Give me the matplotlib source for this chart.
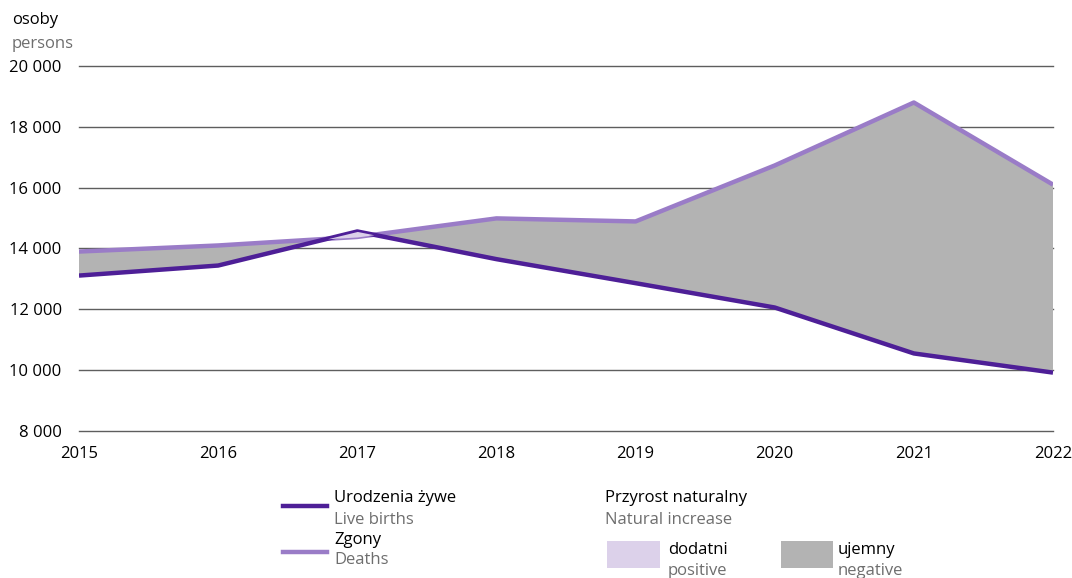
import matplotlib
matplotlib.use("Agg")
import matplotlib.pyplot as plt
import numpy as np
from matplotlib.patches import Rectangle
from matplotlib.lines import Line2D

years = [2015, 2016, 2017, 2018, 2019, 2020, 2021, 2022]
births = [13110, 13440, 14560, 13650, 12860, 12060, 10550, 9920]
deaths = [13900, 14100, 14380, 14990, 14890, 16730, 18800, 16100]
yticks = [8000, 10000, 12000, 14000, 16000, 18000, 20000]
ytick_labels = ["8 000", "10 000", "12 000", "14 000", "16 000", "18 000", "20 000"]

C_BIRTH = "#4e1f97"
C_DEATH = "#9a7cc7"
C_POS = "#dcd1ea"
C_NEG = "#b3b3b3"
C_GREY_TXT = "#6e6e6e"
FONT = "Open Sans"
FS = 12

plt.rcParams["font.family"] = [FONT, "DejaVu Sans"]

W, H = 1072, 578
fig = plt.figure(figsize=(W / 100, H / 100), dpi=100)

def fx(px):
    return px / W

def fy(py):
    return 1 - py / H

ax = fig.add_axes([fx(79), fy(431), fx(1053) - fx(79), fy(66) - fy(431)])

x = np.array(years, dtype=float)
b = np.array(births, dtype=float)
d = np.array(deaths, dtype=float)

ax.fill_between(x, b, d, where=d >= b, interpolate=True, color=C_NEG, lw=0, zorder=2)
ax.plot(x, d, color=C_DEATH, lw=3.2, zorder=4, solid_capstyle="butt")
ax.plot(x, b, color=C_BIRTH, lw=3.2, zorder=5, solid_capstyle="butt")
ax.fill_between(x, b, d, where=b >= d, interpolate=True, color=C_POS, lw=0, zorder=6)

ax.set_xlim(2015, 2022)
ax.set_ylim(8000, 20000)
ax.set_yticks(yticks)
ax.set_yticklabels(ytick_labels)
ax.set_xticks(years)
ax.set_xticklabels([str(y) for y in years])
for s in ax.spines.values():
    s.set_visible(False)
ax.grid(axis="y", color="#5e5e5e", lw=1.0, zorder=1)
ax.set_axisbelow(True)
for gl in ax.yaxis.get_gridlines():
    gl.set_clip_on(False)
ax.tick_params(axis="both", length=0, labelsize=FS, colors="black")
ax.tick_params(axis="y", pad=12.5)
ax.tick_params(axis="x", pad=11)

# unit labels
fig.text(fx(12), fy(20), "osoby", fontsize=FS, color="black", va="center", ha="left")
fig.text(fx(12), fy(44), "persons", fontsize=FS, color=C_GREY_TXT, va="center", ha="left")

# legend
fig.add_artist(Line2D([fx(283), fx(327)], [fy(506), fy(506)], color=C_BIRTH, lw=3.2))
fig.add_artist(Line2D([fx(283), fx(327)], [fy(552), fy(552)], color=C_DEATH, lw=3.2))
fig.text(fx(334), fy(498), "Urodzenia żywe", fontsize=FS, color="black", va="center")
fig.text(fx(334), fy(520), "Live births", fontsize=FS, color=C_GREY_TXT, va="center")
fig.text(fx(334), fy(540), "Zgony", fontsize=FS, color="black", va="center")
fig.text(fx(334), fy(560), "Deaths", fontsize=FS, color=C_GREY_TXT, va="center")

fig.text(fx(605), fy(498), "Przyrost naturalny", fontsize=FS, color="black", va="center")
fig.text(fx(605), fy(520), "Natural increase", fontsize=FS, color=C_GREY_TXT, va="center")

fig.add_artist(Rectangle((fx(607), fy(568)), fx(660) - fx(607), fy(541) - fy(568),
                         facecolor=C_POS, edgecolor="none", transform=fig.transFigure))
fig.text(fx(668), fy(550), "dodatni", fontsize=FS, color="black", va="center")
fig.text(fx(668), fy(571), "positive", fontsize=FS, color=C_GREY_TXT, va="center")

fig.add_artist(Rectangle((fx(781), fy(568)), fx(833) - fx(781), fy(541) - fy(568),
                         facecolor=C_NEG, edgecolor="none", transform=fig.transFigure))
fig.text(fx(838), fy(550), "ujemny", fontsize=FS, color="black", va="center")
fig.text(fx(838), fy(571), "negative", fontsize=FS, color=C_GREY_TXT, va="center")

fig.savefig("out.png", dpi=100)
